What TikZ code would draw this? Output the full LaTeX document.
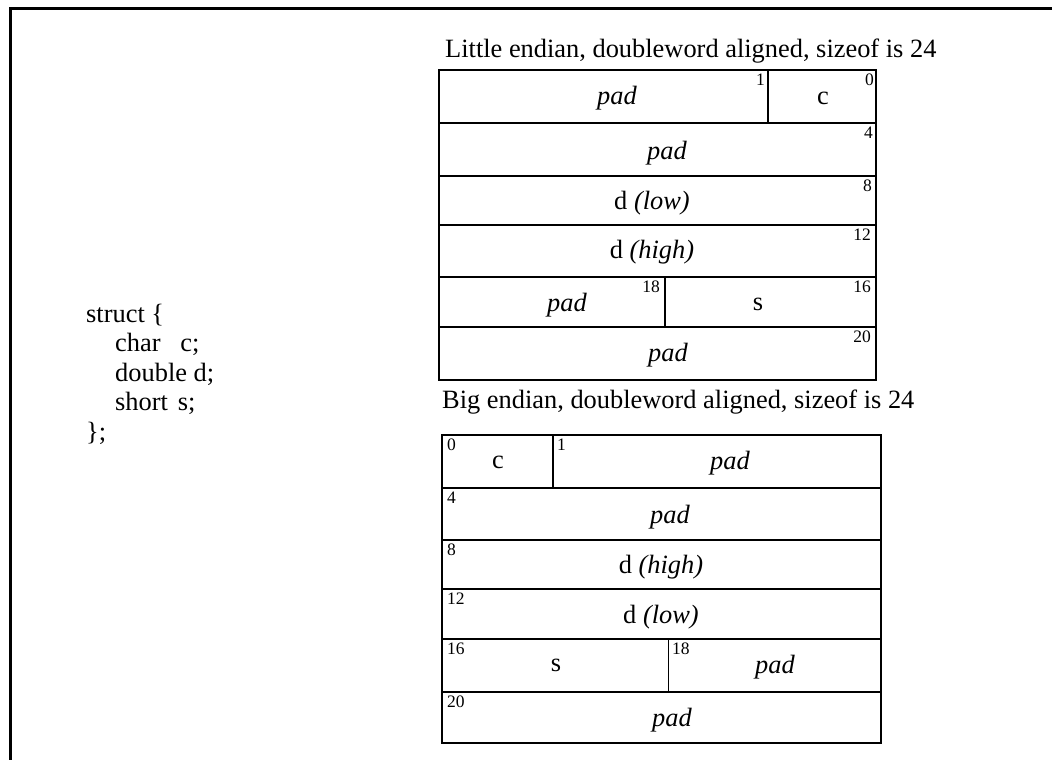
\documentclass[tikz,border=0pt]{standalone}
\usepackage{fontspec}
\setmainfont{Liberation Serif}

\begin{document}
\begin{tikzpicture}[x=1pt,y=-1pt,
	cell/.style={draw,line width=2.6pt},
	txt/.style={font=\fontsize{26.4}{29.5}\selectfont,inner sep=0pt},
	num/.style={font=\fontsize{17.5}{18}\selectfont,inner sep=0pt}]
	\useasboundingbox (0,0) rectangle (1052,760);
	% frame
	\draw[line width=3pt] (10.5,760)--(10.5,8.5)--(1052,8.5);
	% struct declaration
	\node[txt,anchor=base west] (sline1) at (86,322){struct \{};
	\node[txt,anchor=base west] (sline2) at (115,351.5){char\hspace{3\fontdimen2\font}c;};
	\node[txt,anchor=base west] (sline3) at (115,381){double d;};
	\node[txt,anchor=base west] (sline4) at (115,410.5){short\hspace{1.5\fontdimen2\font}s;};
	\node[txt,anchor=base west] (sline5) at (86,440){\};};
	% little endian
	\node[txt,anchor=base west] (ltitle) at (445,58){Little endian, doubleword aligned, sizeof is 24};
	\draw[cell] (439,70) rectangle (768,123);
	\draw[cell] (768,70) rectangle (876,123);
	\draw[cell] (439,123) rectangle (876,176);
	\draw[cell] (439,176) rectangle (876,225);
	\draw[cell] (439,225) rectangle (876,277);
	\draw[cell] (439,277) rectangle (665,327);
	\draw[cell] (665,277) rectangle (876,327);
	\draw[cell] (439,327) rectangle (876,380);
	\node[txt] (lpad1) at (617,98){\itshape pad};
	\node[txt] (lc) at (823,98){c};
	\node[txt] (lpad4) at (667,153){\itshape pad};
	\node[txt] (ldlow) at (652,203){d \textit{(low)}};
	\node[txt] (ldhigh) at (652,252){d \textit{(high)}};
	\node[txt] (lpad18) at (567,305){\itshape pad};
	\node[txt] (ls) at (758,304){s};
	\node[txt] (lpad20) at (668,355){\itshape pad};
	\node[num,anchor=north east] (ln1) at (765,74){1};
	\node[num,anchor=north east] (ln0) at (874,74){0};
	\node[num,anchor=north east] (ln4) at (873,127){4};
	\node[num,anchor=north east] (ln8) at (872,180){8};
	\node[num,anchor=north east] (ln12) at (871,229){12};
	\node[num,anchor=north east] (ln18) at (660,281){18};
	\node[num,anchor=north east] (ln16) at (871,281){16};
	\node[num,anchor=north east] (ln20) at (871,331){20};
	% big endian
	\node[txt,anchor=base west] (btitle) at (442,408){Big endian, doubleword aligned, sizeof is 24};
	\draw[cell] (442,435) rectangle (553,488);
	\draw[cell] (553,435) rectangle (881,488);
	\draw[cell] (442,488) rectangle (881,540);
	\draw[cell] (442,540) rectangle (881,589);
	\draw[cell] (442,589) rectangle (881,639);
	\draw[cell] (442,639) rectangle (881,692);
	\draw[line width=1pt] (668,639)--(668,692);
	\draw[cell] (442,692) rectangle (881,743);
	\node[txt] (bc) at (498,462){c};
	\node[txt] (bpad1) at (730,463){\itshape pad};
	\node[txt] (bpad4) at (670,517){\itshape pad};
	\node[txt] (bdhigh) at (661,567){d \textit{(high)}};
	\node[txt] (bdlow) at (661,617){d \textit{(low)}};
	\node[txt] (bs) at (556,665){s};
	\node[txt] (bpad18) at (775,667){\itshape pad};
	\node[txt] (bpad20) at (672,720){\itshape pad};
	\node[num,anchor=north west] (bn0) at (447,439){0};
	\node[num,anchor=north west] (bn1) at (557,439){1};
	\node[num,anchor=north west] (bn4) at (447,492){4};
	\node[num,anchor=north west] (bn8) at (447,544){8};
	\node[num,anchor=north west] (bn12) at (447,593){12};
	\node[num,anchor=north west] (bn16) at (447,643){16};
	\node[num,anchor=north west] (bn18) at (672,643){18};
	\node[num,anchor=north west] (bn20) at (447,696){20};
\end{tikzpicture}
\end{document}
